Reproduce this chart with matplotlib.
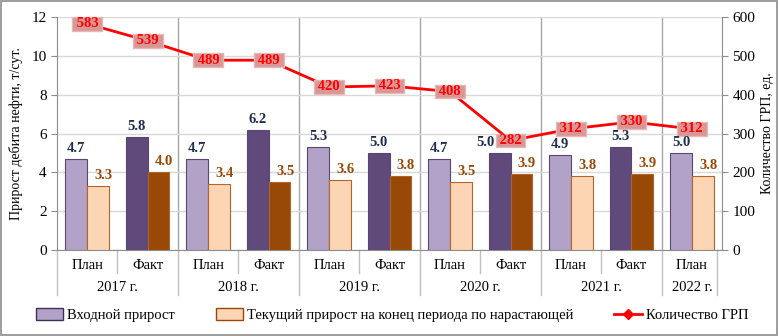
import matplotlib.pyplot as plt
import matplotlib.transforms as mtransforms
from matplotlib.lines import Line2D
from matplotlib.patches import Patch

plt.rcParams['font.family'] = ['Liberation Serif', 'DejaVu Serif']

# data
kinds = ['План', 'Факт', 'План', 'Факт', 'План', 'Факт', 'План', 'Факт', 'План', 'Факт', 'План']
years = ['2017 г.', '2018 г.', '2019 г.', '2020 г.', '2021 г.', '2022 г.']
year_spans = [(0, 1), (2, 3), (4, 5), (6, 7), (8, 9), (10, 10)]
entry_gain = [4.7, 5.8, 4.7, 6.2, 5.3, 5.0, 4.7, 5.0, 4.9, 5.3, 5.0]
current_gain = [3.3, 4.0, 3.4, 3.5, 3.6, 3.8, 3.5, 3.9, 3.8, 3.9, 3.8]
frac_count = [583, 539, 489, 489, 420, 423, 408, 282, 312, 330, 312]

n = len(kinds)
x = list(range(n))
is_plan = [k == 'План' for k in kinds]

c_plan_in, c_fact_in = '#B3A2C7', '#604A7B'
c_plan_cur, c_fact_cur = '#FCD5B5', '#984807'
grid_c = '#D9D9D9'
axis_c = '#8C8C8C'

fig = plt.figure(figsize=(7.79, 3.36), dpi=100)
ax = fig.add_axes([0.0732, 0.256, 0.8538, 0.693])

w = 0.36
off = 0.18
ax.bar([i - off for i in x], entry_gain, width=w,
       color=[c_plan_in if p else c_fact_in for p in is_plan],
       edgecolor='#5A4672', linewidth=0.8, zorder=3)
ax.bar([i + off for i in x], current_gain, width=w,
       color=[c_plan_cur if p else c_fact_cur for p in is_plan],
       edgecolor='#B0652A', linewidth=0.8, zorder=3)

ax.set_xlim(-0.5, n - 0.5)
ax.set_ylim(0, 12)
ax.set_yticks(range(0, 13, 2))
ax.set_xticks([])
ax.grid(axis='y', color=grid_c, linewidth=1, zorder=0)
for b in [1.5, 3.5, 5.5, 7.5, 9.5]:
    ax.axvline(b, color='#A6A6A6', linewidth=1, zorder=1)
for s in ['top', 'right']:
    ax.spines[s].set_visible(False)
ax.spines['left'].set_color(axis_c)
ax.spines['bottom'].set_color(axis_c)
ax.tick_params(axis='y', labelsize=11, colors='black', color=axis_c, length=4)
ax.set_ylabel('Прирост дебита нефти, т/сут.', fontsize=10, labelpad=6)

# two-level category axis
trans = mtransforms.blended_transform_factory(ax.transData, ax.transAxes)
for i in x:
    ax.text(i, -0.066, kinds[i], transform=trans, ha='center', va='center', fontsize=10.5)
for i in range(n - 1):
    if i % 2 == 0:
        ax.plot([i + 0.5, i + 0.5], [0, -0.1], transform=trans, color='#BFBFBF',
                linewidth=1, clip_on=False)
for (a, b), y in zip(year_spans, years):
    ax.text((a + b) / 2, -0.16, y, transform=trans, ha='center', va='center', fontsize=10.5)
for e in [-0.5, 1.5, 3.5, 5.5, 7.5, 9.5, 10.42]:
    ax.plot([e, e], [0, -0.193], transform=trans, color='#BFBFBF',
            linewidth=1, clip_on=False)

ax2 = ax.twinx()
ax2.plot(x, frac_count, color='#FF0000', linewidth=2, marker='D', markersize=5,
         markerfacecolor='#FF0000', zorder=4)
for i in x:
    ax2.text(i, frac_count[i], f' {frac_count[i]} ', ha='center', va='center',
             fontsize=10.5, fontweight='bold', color='#FF0000', zorder=6,
             bbox=dict(boxstyle='square,pad=0.02', facecolor='#DA9694',
                       edgecolor='#E6B9B8', linewidth=1))
ax2.set_ylim(0, 600)
ax2.set_yticks(range(0, 601, 100))
for s in ['top', 'left', 'bottom']:
    ax2.spines[s].set_visible(False)
ax2.spines['right'].set_color(axis_c)
ax2.tick_params(axis='y', labelsize=11, color=axis_c, length=4)
ax2.set_ylabel('Количество ГРП, ед.', fontsize=10, labelpad=4)

# bar value labels (drawn on top so the line labels never hide them)
for i in x:
    dx = -10 if i == 7 else 0  # Excel nudged this label away from the line label
    ax2.annotate(f'{entry_gain[i]:.1f}', (i - off, entry_gain[i]), xytext=(dx, 3),
                 xycoords=ax.transData, textcoords='offset points', ha='center',
                 va='bottom', fontsize=10.5, fontweight='bold', color='#1F2D4D', zorder=7)
    ax2.annotate(f'{current_gain[i]:.1f}', (i + off, current_gain[i]), xytext=(4, 3),
                 xycoords=ax.transData, textcoords='offset points', ha='center',
                 va='bottom', fontsize=10.5, fontweight='bold', color='#984807', zorder=7)

handles = [Patch(facecolor=c_plan_in, edgecolor='#3F3151', linewidth=1),
           Patch(facecolor=c_plan_cur, edgecolor='#984807', linewidth=1),
           Line2D([0], [0], color='#FF0000', linewidth=2, marker='D', markersize=5)]
labels = ['Входной прирост', 'Текущий прирост на конец периода по нарастающей',
          'Количество ГРП']
fig.legend(handles, labels, loc='center', bbox_to_anchor=(0.503, 0.062), ncol=3,
           frameon=False, fontsize=10.5, columnspacing=2.8, handlelength=1.9,
           handletextpad=0.25, handleheight=0.8)

fig.patches.append(plt.Rectangle((0.001, 0.002), 0.997, 0.995, transform=fig.transFigure,
                                 fill=False, edgecolor='#8C8C8C', linewidth=1.2))

fig.savefig('out.png', dpi=100)
